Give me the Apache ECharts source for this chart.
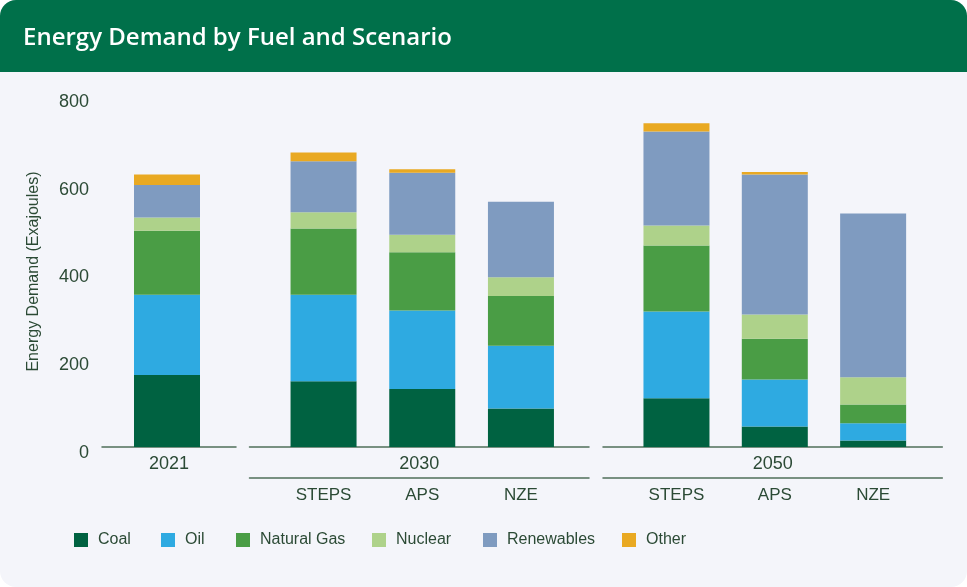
<!DOCTYPE html>
<html>
<head>
<meta charset="utf-8">
<script src="https://cdn.jsdelivr.net/npm/echarts@6.0.0/dist/echarts.min.js"></script>
<style>
    html, body { margin: 0; padding: 0; background: #ffffff; }
    .card {
        position: relative;
        width: 967px;
        height: 587px;
        border-radius: 16px;
        overflow: hidden;
        background: #f4f5fa;
    }
    .card .band {
        position: absolute;
        left: 0; top: 0; right: 0;
        height: 72px;
        background: #00704a;
    }
    #chart { position: absolute; left: 0; top: 0; width: 967px; height: 587px; }
</style>
</head>
<body>
<div class="card">
    <div class="band"></div>
    <div id="chart"></div>
</div>
<script>
// fuels, in stacking order (bottom to top)
var fuels = ['Coal', 'Oil', 'Natural Gas', 'Nuclear', 'Renewables', 'Other'];
var years = ['2021', '2030', '2050'];
var scenarios = ['STEPS', 'APS', 'NZE'];

// Exajoules, one value per bar: 2021 | 2030 STEPS, APS, NZE | 2050 STEPS, APS, NZE
var coal       = [164, 150, 132,  88, 111,  47,  15];
var oil        = [183, 197, 179, 143, 198, 107,  39];
var gas        = [146, 151, 133, 113, 150,  93,  43];
var nuclear    = [ 30,  37,  40,  43,  46,  55,  62];
var renewables = [ 74, 116, 141, 172, 214, 319, 373];
var other      = [ 24,  20,   8,   0,  19,   6,   0];

var yMin = 0, yMax = 800, yStep = 200;

var fuelData = [coal, oil, gas, nuclear, renewables, other];
var colors = ['#006241', '#2eaae1', '#4a9d45', '#aed28a', '#7f9bc0', '#e9a922'];
var ink = '#2b4a35';
var lineColor = '#4f6f5a';
var font = '"Liberation Sans Narrow", "Arial Narrow", "Liberation Sans", Arial, sans-serif';

// which bars belong to which year group
var groupBars = [[0, 1], [1, 4], [4, 7]];
var groupCats = [['2021'], scenarios, scenarios];

var chart = echarts.init(document.getElementById('chart'));

var gridTop = 96, gridHeight = 351;
// frame grids (axis lines + year names), then bar grids
var frames = [[102, 134], [249.5, 339.5], [603, 339.3]];
var barGrids = [[117.7, 98.6], [274.2, 296.1], [627.3, 295]];
var legendLeft = [74, 161, 236, 372, 483, 622];

var grid = [];
frames.concat(barGrids).forEach(function (g) {
    grid.push({ left: g[0], width: g[1], top: gridTop, height: gridHeight, outerBoundsMode: 'none' });
});

var xAxis = [];
var yAxis = [];
// frame x axes
years.forEach(function (y, i) {
    xAxis.push({
        type: 'value', gridIndex: i, min: 0, max: 1, position: 'bottom',
        name: y, nameLocation: 'middle', nameGap: 8,
        nameTextStyle: { color: ink, fontSize: 18, fontFamily: font },
        axisLine: { show: true, lineStyle: { color: lineColor, width: 1.5 } },
        axisTick: { show: false }, axisLabel: { show: false }, splitLine: { show: false }
    });
});
// second line under the year for the scenario groups
[1, 2].forEach(function (i) {
    xAxis.push({
        type: 'value', gridIndex: i, min: 0, max: 1, position: 'bottom', offset: 31,
        axisLine: { show: true, lineStyle: { color: lineColor, width: 1.5 } },
        axisTick: { show: false }, axisLabel: { show: false }, splitLine: { show: false }
    });
});
// bar x axes
groupCats.forEach(function (cats, i) {
    xAxis.push({
        type: 'category', gridIndex: 3 + i, data: cats, position: 'bottom', offset: 31,
        axisLine: { show: false }, axisTick: { show: false },
        axisLabel: { show: i > 0, margin: 9, color: ink, fontSize: 17, fontFamily: font }
    });
});

for (var i = 0; i < 6; i++) {
    var ya = {
        type: 'value', gridIndex: i, min: yMin, max: yMax, interval: yStep,
        show: i === 0, splitLine: { show: false }
    };
    if (i === 0) {
        ya.name = 'Energy Demand (Exajoules)';
        ya.nameLocation = 'middle';
        ya.nameGap = 60;
        ya.nameTextStyle = { color: ink, fontSize: 16, fontFamily: font };
        ya.axisLine = { show: false };
        ya.axisTick = { show: false };
        // labels sit a little below their gridline in the original
        ya.axisLabel = {
            color: ink, fontSize: 18, fontFamily: font, margin: 13, lineHeight: 12,
            formatter: function (v) { return '\n' + v; }
        };
    }
    yAxis.push(ya);
}

var series = [];
groupBars.forEach(function (range, g) {
    fuels.forEach(function (f, k) {
        series.push({
            name: f,
            type: 'bar',
            xAxisIndex: 5 + g,
            yAxisIndex: 3 + g,
            stack: 'group' + g,
            barWidth: 66,
            data: fuelData[k].slice(range[0], range[1]),
            itemStyle: { color: colors[k] },
            emphasis: { disabled: true }
        });
    });
});

// one legend per fuel so each key sits where the original has it
var legend = fuels.map(function (f, k) {
    return {
        data: [f],
        left: legendLeft[k], top: 532, padding: 0,
        icon: 'rect', itemWidth: 14, itemHeight: 14,
        selectedMode: false,
        textStyle: { color: ink, fontSize: 16, fontFamily: font, padding: [0, 0, 0, 5] }
    };
});

var option = {
    animation: false,
    color: colors,
    title: {
        text: 'Energy Demand by Fuel and Scenario',
        left: 23, top: 26, padding: 0,
        textStyle: { color: '#ffffff', fontSize: 24, fontWeight: 600, fontFamily: '"Open Sans", Lato, sans-serif' }
    },
    legend: legend,
    grid: grid,
    xAxis: xAxis,
    yAxis: yAxis,
    series: series
};
chart.setOption(option);
</script>
</body>
</html>
